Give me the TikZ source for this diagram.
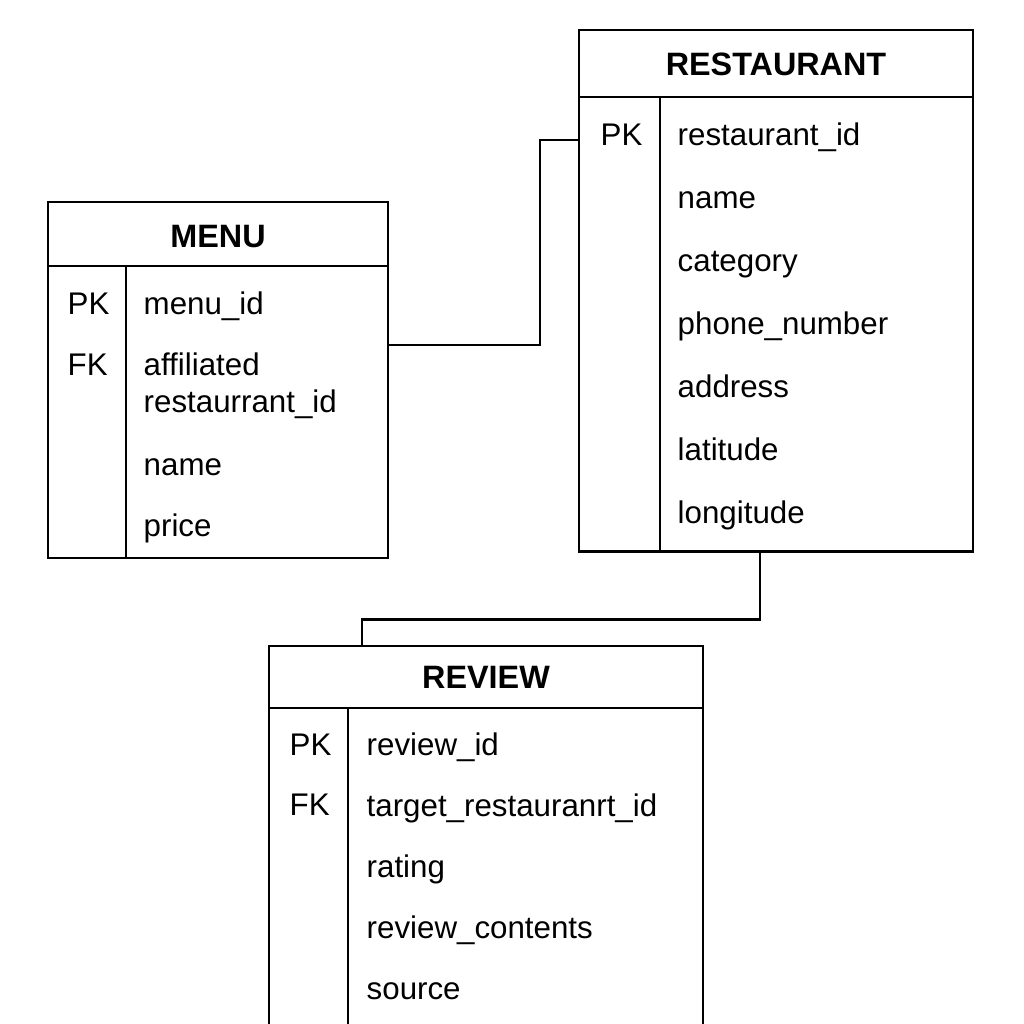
\documentclass[tikz,border=0pt]{standalone}
\usepackage{fontspec}
\setmainfont{Liberation Sans}
\usetikzlibrary{calc, positioning}

\tikzset{
	tbl/.style={draw, line width=0.7pt, inner sep=0pt, outer sep=0pt, anchor=north west},
	ttl/.style={font=\fontsize{9.2pt}{10pt}\selectfont\bfseries, anchor=base, inner sep=0pt},
	fld/.style={font=\fontsize{8.9pt}{10pt}\selectfont, anchor=base west, inner sep=0pt},
	lnk/.style={line width=0.7pt}
}

\begin{document}
\begin{tikzpicture}[x=0.01cm, y=-0.01cm]
	\clip (0,0) rectangle (1024,1024);
	\fill[white] (0,0) rectangle (1024,1024);
	
	% tables
	\node[tbl, minimum width=3.40cm, minimum height=3.56cm] (menu) at (48,202) {};
	\node[tbl, minimum width=3.94cm, minimum height=5.21cm] (rest) at (579,30) {};
	\node[tbl, minimum width=4.34cm, minimum height=4.00cm] (review) at (269,646) {};
	
	% header and key column lines
	\draw[lnk] ($(menu.north west)+(0,64)$) -- ($(menu.north east)+(0,64)$);
	\draw[lnk] ($(menu.north west)+(78,64)$) -- ($(menu.south west)+(78,0)$);
	\draw[lnk] ($(rest.north west)+(0,67)$) -- ($(rest.north east)+(0,67)$);
	\draw[lnk] ($(rest.north west)+(81,67)$) -- ($(rest.south west)+(81,0)$);
	\draw[lnk] ($(review.north west)+(0,62)$) -- ($(review.north east)+(0,62)$);
	\draw[lnk] ($(review.north west)+(79,62)$) -- ($(review.south west)+(79,0)$);
	
	% MENU
	\node[ttl] (menu-t) at (218,247) {MENU};
	\node[fld] (menu-pk) at (67,314) {PK};
	\node[fld] (menu-fk) at (67,375) {FK};
	\node[fld] (menu-1) at (143,314) {menu\_id};
	\node[fld] (menu-2) at (143,375) {affiliated};
	\node[fld] (menu-3) at (143,412) {restaurrant\_id};
	\node[fld] (menu-4) at (143,475) {name};
	\node[fld] (menu-5) at (143,536) {price};
	
	% RESTAURANT
	\node[ttl] (rest-t) at (776,75) {RESTAURANT};
	\node[fld] (rest-pk) at (600,145) {PK};
	\foreach \t [count=\i] in {restaurant\_id, name, category, phone\_number, address, latitude, longitude}
		\node[fld] (rest-\i) at (677,82+63*\i) {\t};
	
	% REVIEW
	\node[ttl] (review-t) at (486,688) {REVIEW};
	\node[fld] (review-pk) at (289,755) {PK};
	\node[fld] (review-fk) at (289,815) {FK};
	\foreach \t [count=\i] in {review\_id, target\_restauranrt\_id, rating, review\_contents, source}
		\node[fld] (review-\i) at (366,694+61*\i) {\t};
	
	% links
	\draw[lnk] ($(menu.north east)+(0,143)$) -- ++(152,0) |- ($(rest.north west)+(0,110)$);
	\draw[lnk] ($(rest.south west)+(181,0)$) -- ++(0,68) -| ($(review.north west)+(93,0)$);
\end{tikzpicture}
\end{document}
